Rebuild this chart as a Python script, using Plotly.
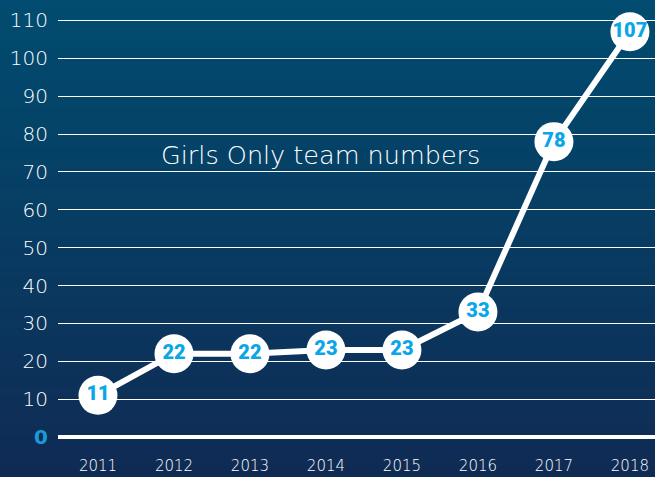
import plotly.graph_objects as go

years = ["2011", "2012", "2013", "2014", "2015", "2016", "2017", "2018"]
teams = [11, 22, 22, 23, 23, 33, 78, 107]
y_ticks = [0, 10, 20, 30, 40, 50, 60, 70, 80, 90, 100, 110]
title_text = "Girls Only team numbers"

W, H = 655, 477
ml, mr, mt, mb = 58, 0, 0, 40

fig = go.Figure()

# vertical gradient background
top = (1, 76, 112)
bot = (15, 43, 84)
n = 48
pw, ph = W - ml - mr, H - mt - mb
y_lo, y_hi = -mb / ph, 1 + mt / ph
x_lo, x_hi = -ml / pw, 1 + mr / pw
for i in range(n):
    f = i / (n - 1)
    c = tuple(round(top[k] + (bot[k] - top[k]) * f) for k in range(3))
    y1 = y_hi - (y_hi - y_lo) * i / n
    y0 = y_hi - (y_hi - y_lo) * (i + 1) / n
    fig.add_shape(type="rect", xref="paper", yref="paper", x0=x_lo, x1=x_hi,
                  y0=y0 - 0.002, y1=y1 + 0.002, fillcolor="rgb(%d,%d,%d)" % c,
                  line=dict(width=0), layer="below")

fig.add_trace(go.Scatter(
    x=list(range(len(years))), y=teams,
    mode="lines+markers+text",
    line=dict(color="white", width=6),
    marker=dict(size=39, color="white", line=dict(width=0)),
    text=[str(v) for v in teams], textposition="middle center",
    textfont=dict(family="Roboto", size=20, color="#0aa6e8", weight=900),
    cliponaxis=False, hoverinfo="skip", showlegend=False,
))

ticktext = ["<b><span style='color:#1a9ad6'>0</span></b>"] + [str(v) for v in y_ticks[1:]]

fig.update_layout(
    width=W, height=H,
    margin=dict(l=ml, r=mr, t=mt, b=mb, pad=0),
    paper_bgcolor="#0c2f57", plot_bgcolor="rgba(0,0,0,0)",
    xaxis=dict(range=[-0.526, 7.33], tickvals=list(range(len(years))), ticktext=years,
               showgrid=False, zeroline=False, showline=False, ticks="",
               ticklabelstandoff=18,
               tickfont=dict(family="DejaVu Sans", size=15, color="white", weight=200)),
    yaxis=dict(range=[0, 115.4], tickvals=y_ticks, ticktext=ticktext,
               showgrid=True, gridcolor="white", gridwidth=1.3,
               zeroline=True, zerolinecolor="white", zerolinewidth=4,
               showline=False, ticks="", ticklabelstandoff=9,
               tickfont=dict(family="DejaVu Sans", size=20, color="white", weight=200)),
    annotations=[dict(text=title_text, x=2.93, y=74.4, xref="x", yref="y",
                      showarrow=False,
                      font=dict(family="DejaVu Sans", size=25.5, color="white", weight=200))],
)

fig.write_html("out.html", config={"displayModeBar": False},
               post_script="document.body.style.margin='0';document.body.style.overflow='hidden';")
